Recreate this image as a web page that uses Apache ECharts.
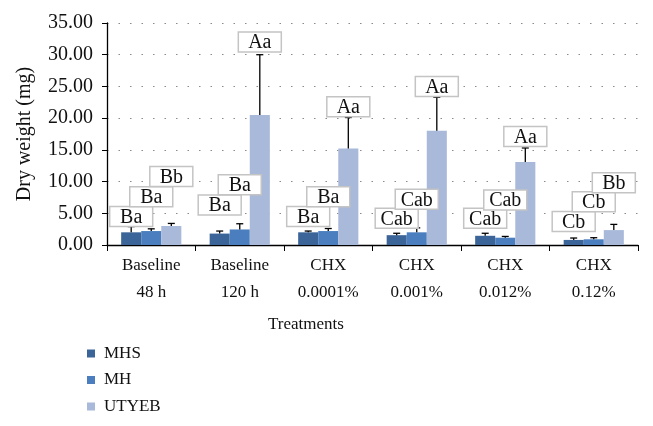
<!DOCTYPE html>
<html><head><meta charset="utf-8">
<script src="https://cdn.jsdelivr.net/npm/echarts@6/dist/echarts.min.js"></script>
<style>html,body{margin:0;padding:0;background:#fff}#c{width:653px;height:426px}</style>
</head><body><div id="c"></div>
<script>
const categories = ['Baseline\n48 h', 'Baseline\n120 h', 'CHX\n0.0001%', 'CHX\n0.001%', 'CHX\n0.012%', 'CHX\n0.12%'];
const seriesNames = ['MHS', 'MH', 'UTYEB'];
const mhs = [2.0, 1.8, 2.0, 1.55, 1.45, 0.8];
const mh = [2.2, 2.45, 2.2, 2.0, 1.15, 0.9];
const utyeb = [3.0, 20.5, 15.2, 18.0, 13.1, 2.35];
const mhsErrTop = [2.9, 2.2, 2.2, 1.85, 1.85, 1.1];
const mhErrTop = [2.55, 3.35, 2.6, 2.7, 1.35, 1.15];
const utyebErrTop = [3.4, 30.0, 20.1, 23.3, 15.3, 3.25];
const mhsLetters = ['Ba', 'Ba', 'Ba', 'Cab', 'Cab', 'Cb'];
const mhLetters = ['Ba', 'Ba', 'Ba', 'Cab', 'Cab', 'Cb'];
const utyebLetters = ['Bb', 'Aa', 'Aa', 'Aa', 'Aa', 'Bb'];
// label anchor heights (data units)
const mhsLabelAt = [4.5, 6.3, 4.5, 4.2, 4.2, 3.7];
const mhLabelAt = [7.6, 9.5, 7.6, 7.2, 7.1, 6.8];
const utyebLabelAt = [10.8, 32.0, 21.8, 25.0, 17.1, 9.8];
const yTicks = [0, 5, 10, 15, 20, 25, 30, 35];

const colors = ['#3b6598', '#4a7ebe', '#a8b9d9'];
const FONT = '"Liberation Serif", "DejaVu Serif", serif';
const values = [mhs, mh, utyeb];
const errs = [mhsErrTop, mhErrTop, utyebErrTop];
const letters = [mhsLetters, mhLetters, utyebLetters];
const labelAt = [mhsLabelAt, mhLabelAt, utyebLabelAt];
const CAT_GAP = 0.32;

function barCenter(api, idx, k) {
  const band = api.size([1, 0])[0];
  const bw = band * (1 - CAT_GAP) / 3;
  const c = api.coord([idx, 0]);
  return { x: c[0] + (k - 1) * bw, bw: bw };
}

const series = [];
for (let k = 0; k < 3; k++) {
  series.push({
    name: seriesNames[k], type: 'bar', data: values[k],
    itemStyle: { color: colors[k] },
    barGap: '0%', barCategoryGap: (CAT_GAP * 100) + '%', z: 2
  });
}
for (let k = 0; k < 3; k++) {
  series.push({
    type: 'custom', silent: true, z: 3,
    data: categories.map((c, i) => [i, values[k][i], errs[k][i]]),
    renderItem: function (params, api) {
      const i = api.value(0);
      const b = barCenter(api, i, k);
      const y0 = api.coord([i, api.value(1)])[1];
      const y1 = api.coord([i, api.value(2)])[1];
      return { type: 'group', children: [
        { type: 'line', shape: { x1: b.x, y1: y0, x2: b.x, y2: y1 }, style: { stroke: '#000', lineWidth: 1.3 } },
        { type: 'line', shape: { x1: b.x - 3.5, y1: y1, x2: b.x + 3.5, y2: y1 }, style: { stroke: '#000', lineWidth: 1.3 } }
      ]};
    }
  });
}
for (let k = 0; k < 3; k++) {
  series.push({
    type: 'custom', silent: true, z: 4 + k,
    data: categories.map((c, i) => [i, labelAt[k][i]]),
    renderItem: function (params, api) {
      const i = api.value(0);
      const b = barCenter(api, i, k);
      const y = api.coord([i, api.value(1)])[1];
      const w = 43, h = 20;
      return { type: 'group', children: [
        { type: 'rect', shape: { x: b.x - w / 2, y: y - h / 2, width: w, height: h },
          style: { fill: '#fff', stroke: '#c4c4c4', lineWidth: 1.5 } },
        { type: 'text', style: { text: letters[k][i], x: b.x, y: y + 1, align: 'center', verticalAlign: 'middle',
          fontSize: 20, fontFamily: FONT, fill: '#111' } }
      ]};
    }
  });
}

const chart = echarts.init(document.getElementById('c'));
chart.setOption({
  animation: false,
  backgroundColor: '#fff',
  textStyle: { fontFamily: FONT },
  grid: { left: 107, right: 15, top: 23, bottom: 181, containLabel: false },
  legend: {
    orient: 'vertical', left: 82, top: 340, itemWidth: 8, itemHeight: 8, itemGap: 9.5, icon: 'rect',
    data: seriesNames.map(n => ({ name: n, textStyle: { fontFamily: FONT, fontSize: 17, color: '#111' } })),
    textStyle: { fontFamily: FONT, fontSize: 17, color: '#111', padding: [0, 0, 0, 4] }
  },
  xAxis: {
    type: 'category', data: categories,
    axisLine: { lineStyle: { color: '#000', width: 1.3 } },
    axisTick: { show: true, length: 6, lineStyle: { color: '#000' } },
    axisLabel: { fontFamily: FONT, fontSize: 17, color: '#111', lineHeight: 27, margin: 7 }
  },
  yAxis: {
    type: 'value', min: 0, max: 35, interval: 5,
    name: 'Dry weight (mg)', nameLocation: 'middle', nameGap: 72,
    nameTextStyle: { fontFamily: FONT, fontSize: 20, color: '#111' },
    axisLine: { show: true, lineStyle: { color: '#000', width: 1.3 } },
    axisTick: { show: true, length: 5, lineStyle: { color: '#000' } },
    axisLabel: { fontFamily: FONT, fontSize: 20, color: '#111', margin: 14,
      formatter: v => yTicks.indexOf(v) >= 0 ? v.toFixed(2) : '' },
    splitLine: { show: true, lineStyle: { color: '#8a8a8a', type: [1.5, 10], width: 1.2 } }
  },
  graphic: [{
    type: 'text', left: 268, top: 316,
    style: { text: 'Treatments', fontSize: 17, fontFamily: FONT, fill: '#111' }
  }],
  series: series
});
</script></body></html>
